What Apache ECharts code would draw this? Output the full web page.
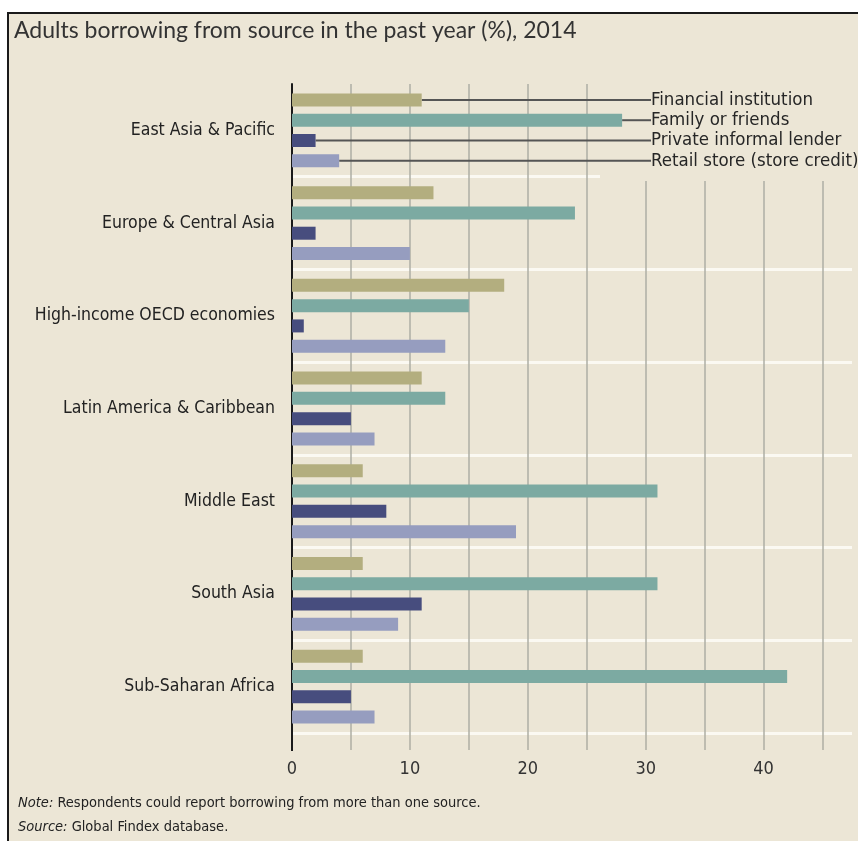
<!DOCTYPE html>
<html>
<head>
<meta charset="utf-8">
<script src="https://cdn.jsdelivr.net/npm/echarts@6/dist/echarts.min.js"></script>
<style>
  html, body { margin: 0; padding: 0; background: #ffffff; }
  #frame { position: absolute; left: 7px; top: 12px; width: 849px; height: 827px;
           border-left: 2px solid #1a1a1a; border-top: 2px solid #1a1a1a; background: #ece6d6; }
  #chart { width: 849px; height: 827px; }
</style>
</head>
<body>
<div id="frame"><div id="chart"></div></div>
<script>
const categories = ['East Asia & Pacific', 'Europe & Central Asia', 'High-income OECD economies',
  'Latin America & Caribbean', 'Middle East', 'South Asia', 'Sub-Saharan Africa'];
const seriesNames = ['Financial institution', 'Family or friends', 'Private informal lender', 'Retail store (store credit)'];
const financial = [11, 12, 18, 11, 6, 6, 6];
const family = [28, 24, 15, 13, 31, 31, 42];
const privateLender = [2, 2, 1, 5, 8, 11, 5];
const retail = [4, 10, 13, 7, 19, 9, 7];
const xTickValues = [0, 5, 10, 15, 20, 25, 30, 35, 40, 45];
const xLabelValues = [0, 10, 20, 30, 40];

const colors = ['#b3ae7f', '#7caaa2', '#474d7e', '#969dbf'];
const FONT = '"Liberation Sans Narrow", "DejaVu Sans Condensed", sans-serif';

const chart = echarts.init(document.getElementById('chart'));

function buildData(values) {
  return values.map((v, i) => i === 0
    ? { value: v, label: { show: true } }
    : { value: v });
}

const valueSets = [financial, family, privateLender, retail];
const series = valueSets.map((vals, k) => ({
  name: seriesNames[k],
  type: 'bar',
  barWidth: 13,
  barGap: '56%',
  itemStyle: { color: colors[k] },
  data: buildData(vals),
  label: {
    show: false,
    position: 'right',
    formatter: '{a}',
    fontFamily: FONT,
    fontSize: 18.5,
    color: '#262626',
    padding: [0, 0, 0, 6]
  },
  labelLine: { show: true, lineStyle: { color: '#555555', width: 2 } },
  labelLayout: function (params) {
    return {
      x: 636,
      y: params.rect.y + params.rect.height / 2,
      align: 'left',
      verticalAlign: 'middle'
    };
  }
}));

const xSplitColors = [];
for (let v = 0; v <= 45; v += 5) xSplitColors.push('#aeaea4');
xSplitColors.push('rgba(0,0,0,0)');

const ySplitColors = ['rgba(0,0,0,0)'];
for (let i = 0; i < categories.length; i++) ySplitColors.push('#fbf9f2');

chart.setOption({
  backgroundColor: '#ece6d6',
  animation: false,
  title: [
    {
      text: 'Adults borrowing from source in the past year (%), 2014',
      left: 5, top: 5, padding: 0,
      textStyle: { fontFamily: 'Lato, sans-serif', fontWeight: 'normal', fontSize: 23, color: '#333333' }
    },
    {
      text: '{i|Note:} Respondents could report borrowing from more than one source.\n{i|Source:} Global Findex database.',
      left: 9, top: 777, padding: 0,
      textStyle: {
        fontFamily: FONT, fontWeight: 'normal', fontSize: 14.5, color: '#222222', lineHeight: 24,
        rich: { i: { fontFamily: FONT, fontStyle: 'italic', fontSize: 14.5, color: '#222222', lineHeight: 24 } }
      }
    }
  ],
  grid: { left: 283, right: 6, top: 70, bottom: 108, containLabel: false },
  xAxis: {
    type: 'value',
    min: 0, max: 47.5, interval: 5,
    axisLine: { show: false },
    axisTick: { show: true, length: 17, customValues: xTickValues, lineStyle: { color: '#aeaea4', width: 1.5 } },
    splitLine: { show: true, lineStyle: { color: xSplitColors, width: 1.5 } },
    axisLabel: {
      margin: 27,
      customValues: xLabelValues,
      fontFamily: FONT, fontSize: 18, color: '#333333'
    }
  },
  yAxis: {
    type: 'category',
    inverse: true,
    data: categories,
    axisLine: { show: true, lineStyle: { color: '#1a1a1a', width: 2 } },
    axisTick: { show: false },
    splitLine: { show: true, lineStyle: { color: ySplitColors, width: 3 } },
    axisLabel: { margin: 17, fontFamily: FONT, fontSize: 17.5, color: '#222222' }
  },
  graphic: [
    { type: 'rect', z: 1, shape: { x: 591, y: 70, width: 258, height: 97 }, style: { fill: '#ece6d6' } },
    { type: 'line', z: 3, shape: { x1: 283, y1: 715, x2: 283, y2: 737 }, style: { stroke: '#1a1a1a', lineWidth: 2 } }
  ],
  series: series
});
</script>
</body>
</html>
